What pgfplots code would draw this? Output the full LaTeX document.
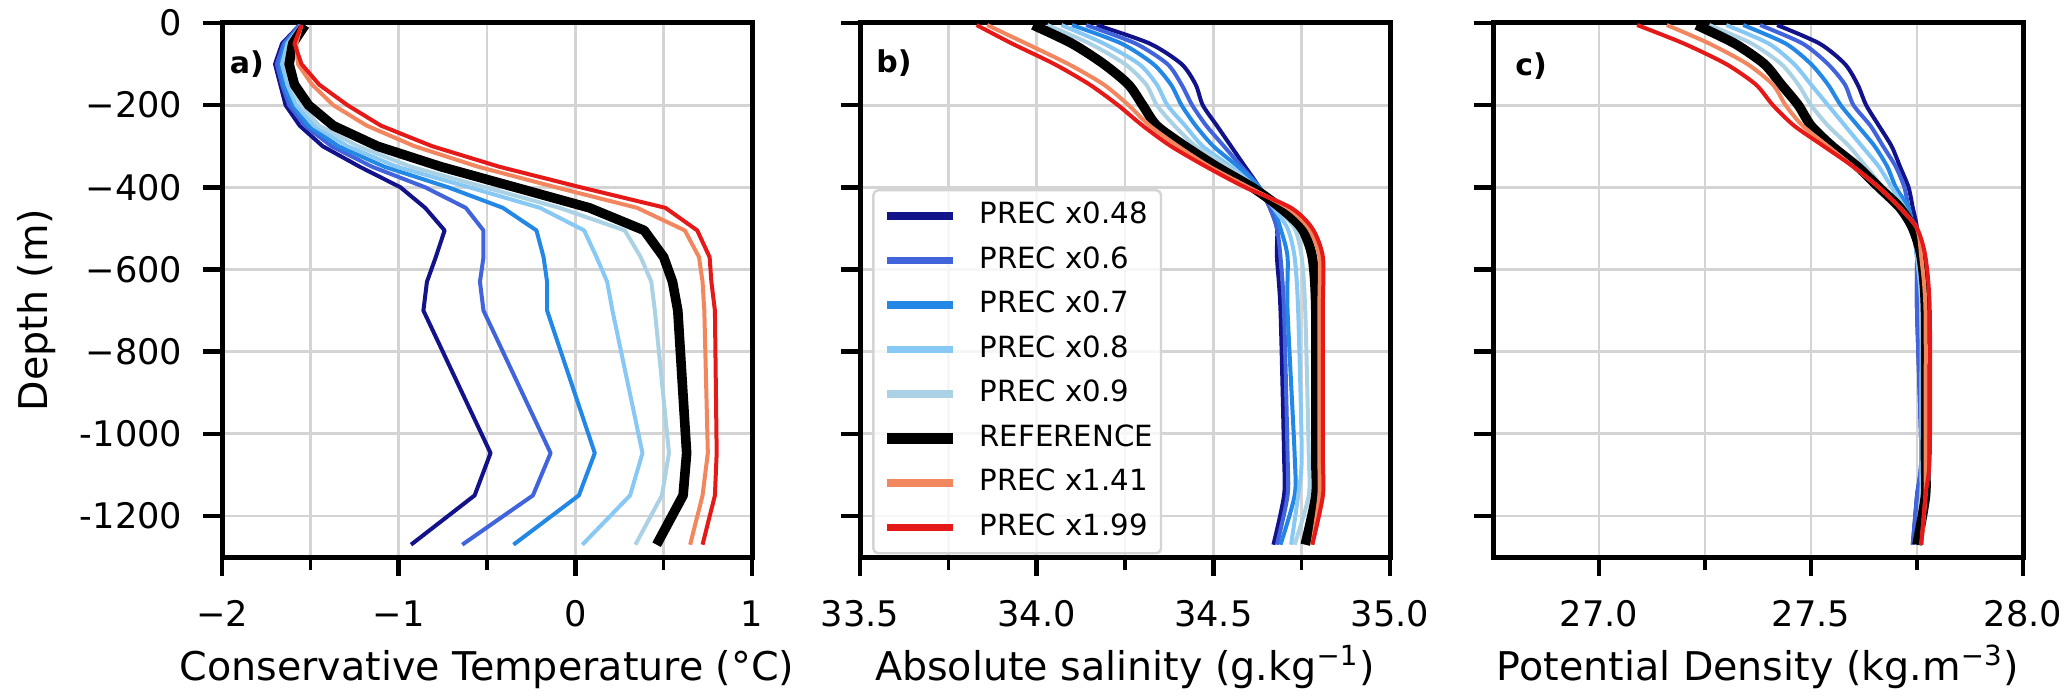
\documentclass[border=0pt]{standalone}
\usepackage{pgfplots}
\pgfplotsset{compat=1.18}
\usepackage{pgfplotstable}
\usepackage{fontspec}
\setmainfont{DejaVu Sans}

\definecolor{c048}{RGB}{18,18,138}
\definecolor{c060}{RGB}{65,100,220}
\definecolor{c070}{RGB}{35,135,230}
\definecolor{c080}{RGB}{135,200,245}
\definecolor{c090}{RGB}{170,210,228}
\definecolor{c141}{RGB}{242,135,95}
\definecolor{c199}{RGB}{230,25,25}
\definecolor{gridgray}{RGB}{212,212,212}

% conservative temperature (degC) per depth (m)
\pgfplotstableread{
d      n48   n60   n70   n80   n90   ref   p141  p199
-5     -1.56 -1.56 -1.55 -1.55 -1.54 -1.53 -1.55 -1.55
-50    -1.66 -1.65 -1.64 -1.63 -1.62 -1.60 -1.58 -1.59
-100   -1.70 -1.69 -1.67 -1.66 -1.64 -1.62 -1.57 -1.55
-150   -1.67 -1.66 -1.65 -1.63 -1.61 -1.59 -1.49 -1.45
-200   -1.64 -1.62 -1.60 -1.58 -1.55 -1.51 -1.37 -1.29
-250   -1.56 -1.53 -1.51 -1.48 -1.45 -1.37 -1.18 -1.10
-300   -1.43 -1.38 -1.34 -1.29 -1.23 -1.12 -0.91 -0.81
-350   -1.22 -1.15 -1.08 -1.01 -0.93 -0.76 -0.55 -0.43
-400   -0.99 -0.85 -0.72 -0.60 -0.51 -0.34 -0.11  0.03
-450   -0.85 -0.62 -0.41 -0.20 -0.09  0.08  0.35  0.51
-505   -0.74 -0.52 -0.22  0.05  0.28  0.39  0.62  0.69
-570   -0.79 -0.52 -0.18  0.12  0.37  0.50  0.70  0.76
-630   -0.84 -0.54 -0.16  0.18  0.43  0.55  0.72  0.77
-700   -0.86 -0.52 -0.16  0.21  0.45  0.58  0.73  0.79
-1047  -0.48 -0.14  0.11  0.38  0.53  0.63  0.75  0.80
-1150  -0.57 -0.24  0.02  0.31  0.49  0.61  0.72  0.79
-1270  -0.93 -0.64 -0.35  0.04  0.34  0.46  0.65  0.72
}\tabA

% absolute salinity (g/kg)
\pgfplotstableread{
d      n48   n60   n70   n80   n90   ref   p141  p199
-5     34.17 34.14 34.10 34.07 34.03 33.99 33.86 33.83
-50    34.32 34.28 34.24 34.19 34.15 34.10 33.97 33.93
-100   34.41 34.37 34.33 34.29 34.25 34.19 34.09 34.05
-150   34.45 34.41 34.38 34.34 34.31 34.26 34.19 34.15
-200   34.47 34.44 34.41 34.37 34.34 34.30 34.26 34.23
-250   34.51 34.48 34.45 34.42 34.39 34.34 34.32 34.30
-300   34.55 34.53 34.50 34.47 34.45 34.42 34.40 34.38
-350   34.59 34.58 34.57 34.55 34.54 34.51 34.49 34.48
-400   34.63 34.63 34.63 34.62 34.62 34.61 34.60 34.59
-450   34.66 34.66 34.67 34.67 34.68 34.69 34.71 34.72
-500   34.68 34.68 34.69 34.71 34.73 34.75 34.77 34.78
-570   34.68 34.69 34.71 34.73 34.75 34.78 34.80 34.81
-700   34.69 34.70 34.71 34.74 34.76 34.79 34.80 34.81
-1050  34.70 34.71 34.73 34.75 34.77 34.79 34.80 34.81
-1150  34.70 34.71 34.73 34.74 34.77 34.79 34.80 34.81
-1270  34.67 34.68 34.69 34.72 34.73 34.76 34.78 34.78
}\tabB

% potential density (kg/m3)
\pgfplotstableread{
d      n48   n60   n70   n80   n90   ref   p141  p199
-5     27.42 27.38 27.34 27.30 27.26 27.23 27.16 27.09
-50    27.52 27.48 27.44 27.40 27.36 27.32 27.26 27.20
-100   27.58 27.54 27.50 27.46 27.43 27.39 27.35 27.30
-150   27.61 27.58 27.54 27.50 27.47 27.43 27.41 27.37
-200   27.63 27.60 27.57 27.54 27.50 27.47 27.44 27.41
-250   27.66 27.64 27.61 27.58 27.54 27.50 27.48 27.46
-300   27.69 27.67 27.65 27.62 27.59 27.55 27.54 27.53
-350   27.71 27.70 27.68 27.66 27.63 27.61 27.60 27.60
-400   27.73 27.72 27.70 27.69 27.67 27.66 27.66 27.66
-450   27.74 27.73 27.73 27.72 27.72 27.71 27.71 27.71
-500   27.75 27.74 27.74 27.74 27.74 27.74 27.75 27.75
-570   27.75 27.75 27.75 27.75 27.76 27.76 27.76 27.77
-700   27.75 27.75 27.76 27.76 27.76 27.77 27.77 27.78
-1050  27.76 27.76 27.76 27.76 27.77 27.77 27.77 27.78
-1150  27.75 27.75 27.76 27.76 27.76 27.77 27.77 27.77
-1270  27.74 27.74 27.75 27.75 27.75 27.75 27.76 27.76
}\tabC

\tikzset{
  panel/.style={font=\bfseries\fontsize{7.5}{9}\selectfont},
}

\pgfplotsset{
  profline/.style={line width=1pt, legend image post style={line width=1.9pt}},
  refline/.style={black, line width=2.4pt, legend image post style={line width=2.8pt}},
  prof/.style={
    scale only axis, width=132.5pt, height=133.5pt,
    anchor=south west,
    ymin=-1300, ymax=0,
    ytick={0,-200,-400,-600,-800,-1000,-1200},
    tick align=outside, xtick pos=left, ytick pos=left,
    major tick length=4.75pt, minor tick length=3.25pt,
    major tick style={line width=1.1pt, black},
    minor tick style={line width=0.8pt, black},
    axis line style={line width=1.25pt},
    grid=both,
    major grid style={gridgray, line width=0.7pt},
    minor grid style={gridgray, line width=0.7pt},
    xticklabel style={font=\fontsize{8.8}{10}\selectfont, anchor=base, inner sep=0pt, yshift=-12.5pt},
    yticklabel style={font=\fontsize{8.8}{10}\selectfont, anchor=east, inner sep=0pt, xshift=-5pt},
    xlabel style={font=\fontsize{9.9}{12}\selectfont, at={(axis description cs:0.5,0)}, anchor=base, inner sep=0pt, yshift=-30.75pt},
    every axis plot/.append style={line join=round, mark=none},
  },
}

\begin{document}
\begin{tikzpicture}
\useasboundingbox (0,0) rectangle (518pt,174pt);

% a) temperature
\begin{axis}[prof, at={(55.5pt,34.75pt)},
    xmin=-2, xmax=1, xtick={-2,-1,0,1}, xticklabels={−2,−1,0,1},
    minor xtick={-1.5,-0.5,0.5},
    yticklabels={0,−200,−400,−600,−800,-1000,-1200},
    xlabel={Conservative Temperature (°C)}]
\addplot[c048, profline] table[x=n48, y=d] {\tabA};
\addplot[c060, profline] table[x=n60, y=d] {\tabA};
\addplot[c070, profline] table[x=n70, y=d] {\tabA};
\addplot[c080, profline] table[x=n80, y=d] {\tabA};
\addplot[c090, profline] table[x=n90, y=d] {\tabA};
\addplot[refline] table[x=ref, y=d] {\tabA};
\addplot[c141, profline] table[x=p141, y=d] {\tabA};
\addplot[c199, profline] table[x=p199, y=d] {\tabA};
\node[panel] at (rel axis cs:0.047,0.923) {a)};
\end{axis}

% b) salinity
\begin{axis}[prof, at={(215pt,34.75pt)},
    xmin=33.5, xmax=35, xtick={33.5,34,34.5,35}, xticklabels={33.5,34.0,34.5,35.0},
    minor xtick={33.75,34.25,34.75},
    yticklabels={},
    xlabel={Absolute salinity (g.kg\textsuperscript{−1})},
    every axis plot/.append style={smooth, tension=0.45},
    legend cell align=left,
    legend style={at={(0.023,0.689)}, anchor=north west, draw=black!17, line width=0.6pt,
      rounded corners=1.2pt, fill=white, fill opacity=0.8, text opacity=1,
      font=\fontsize{7.3}{8}\selectfont, inner xsep=2pt, inner ysep=3pt,
      row sep=4.2pt, nodes={inner sep=0pt}},
    legend image code/.code={\draw[#1] (0pt,0pt) -- (16.5pt,0pt); \path (21.75pt,0pt);}]
\addplot[c048, profline] table[x=n48, y=d] {\tabB};
\addplot[c060, profline] table[x=n60, y=d] {\tabB};
\addplot[c070, profline] table[x=n70, y=d] {\tabB};
\addplot[c080, profline] table[x=n80, y=d] {\tabB};
\addplot[c090, profline] table[x=n90, y=d] {\tabB};
\addplot[refline] table[x=ref, y=d] {\tabB};
\addplot[c141, profline] table[x=p141, y=d] {\tabB};
\addplot[c199, profline] table[x=p199, y=d] {\tabB};
\legend{PREC x0.48, PREC x0.6, PREC x0.7, PREC x0.8, PREC x0.9, REFERENCE, PREC x1.41, PREC x1.99}
\node[panel] at (rel axis cs:0.064,0.925) {b)};
\end{axis}

% c) potential density
\begin{axis}[prof, at={(373.25pt,34.75pt)},
    xmin=26.75, xmax=28, xtick={27,27.5,28}, xticklabels={27.0,27.5,28.0},
    minor xtick={27.25,27.75},
    yticklabels={},
    every axis plot/.append style={smooth, tension=0.45},
    xlabel={Potential Density (kg.m\textsuperscript{−3})}]
\addplot[c048, profline] table[x=n48, y=d] {\tabC};
\addplot[c060, profline] table[x=n60, y=d] {\tabC};
\addplot[c070, profline] table[x=n70, y=d] {\tabC};
\addplot[c080, profline] table[x=n80, y=d] {\tabC};
\addplot[c090, profline] table[x=n90, y=d] {\tabC};
\addplot[refline] table[x=ref, y=d] {\tabC};
\addplot[c141, profline] table[x=p141, y=d] {\tabC};
\addplot[c199, profline] table[x=p199, y=d] {\tabC};
\node[panel] at (rel axis cs:0.072,0.92) {c)};
\end{axis}

\node[rotate=90, anchor=base, font=\fontsize{9.9}{12}\selectfont] at (12pt,96.5pt) {Depth (m)};
\end{tikzpicture}
\end{document}
